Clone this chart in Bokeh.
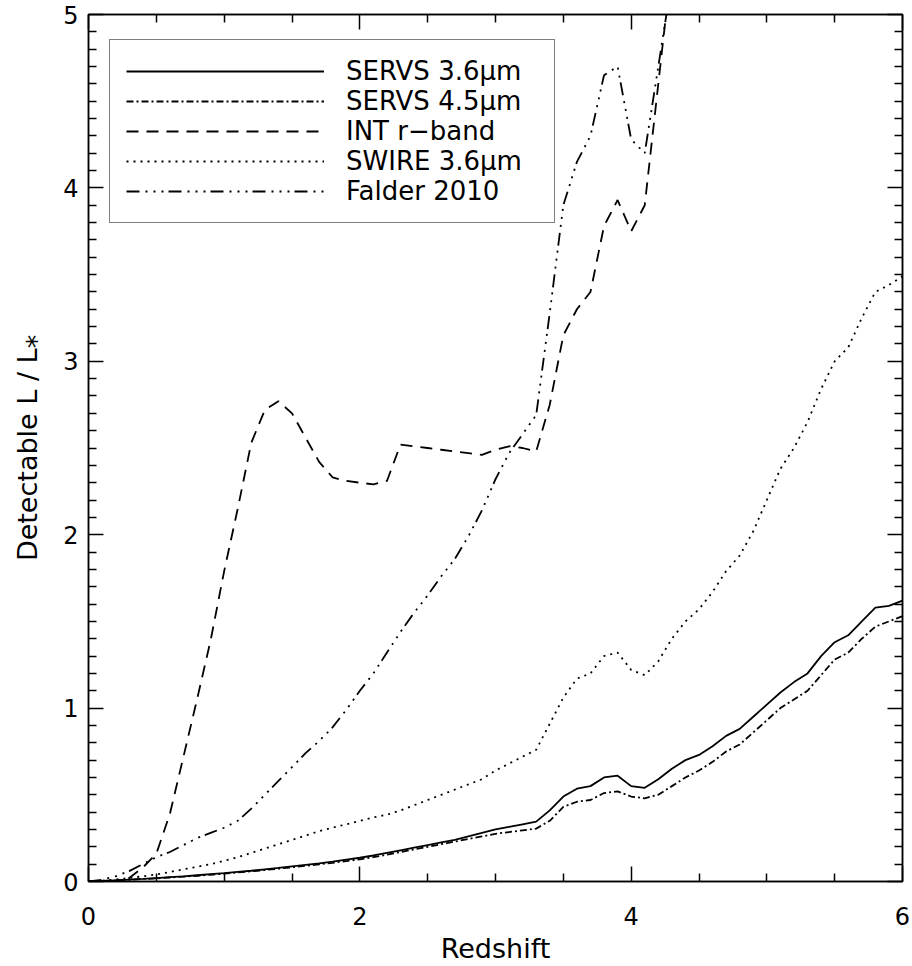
from bokeh.plotting import figure
from bokeh.models import FixedTicker, LinearAxis, Legend, LegendItem, Range1d
from bokeh.embed import file_html
from bokeh.resources import INLINE

# ---------------- data ----------------
z = [0.0, 0.1, 0.2, 0.3, 0.4, 0.5, 0.6, 0.7, 0.8, 0.9,
     1.0, 1.1, 1.2, 1.3, 1.4, 1.5, 1.6, 1.7, 1.8, 1.9,
     2.0, 2.1, 2.2, 2.3, 2.4, 2.5, 2.6, 2.7, 2.8, 2.9,
     3.0, 3.1, 3.2, 3.3, 3.4, 3.5, 3.6, 3.7, 3.8, 3.9,
     4.0, 4.1, 4.2, 4.3, 4.4, 4.5, 4.6, 4.7, 4.8, 4.9,
     5.0, 5.1, 5.2, 5.3, 5.4, 5.5, 5.6, 5.7, 5.8, 5.9, 6.0]

servs36 = [0.000, 0.003, 0.007, 0.011, 0.015, 0.020, 0.025, 0.030, 0.036, 0.042,
           0.048, 0.055, 0.062, 0.070, 0.078, 0.087, 0.096, 0.105, 0.115, 0.126,
           0.137, 0.150, 0.165, 0.180, 0.195, 0.210, 0.225, 0.240, 0.260, 0.280,
           0.300, 0.315, 0.330, 0.345, 0.410, 0.490, 0.535, 0.550, 0.600, 0.610,
           0.550, 0.540, 0.590, 0.650, 0.700, 0.730, 0.780, 0.840, 0.880, 0.950,
           1.020, 1.090, 1.150, 1.200, 1.300, 1.380, 1.420, 1.500, 1.580, 1.590, 1.620]

servs45 = [0.000, 0.003, 0.006, 0.010, 0.014, 0.018, 0.023, 0.028, 0.033, 0.039,
           0.045, 0.052, 0.059, 0.066, 0.074, 0.082, 0.090, 0.099, 0.108, 0.118,
           0.128, 0.140, 0.155, 0.170, 0.185, 0.200, 0.215, 0.230, 0.245, 0.260,
           0.275, 0.285, 0.295, 0.305, 0.350, 0.430, 0.460, 0.470, 0.510, 0.520,
           0.490, 0.480, 0.500, 0.550, 0.600, 0.640, 0.690, 0.750, 0.790, 0.860,
           0.930, 1.000, 1.050, 1.100, 1.190, 1.280, 1.320, 1.400, 1.470, 1.500, 1.530]

swire36 = [0.000, 0.005, 0.012, 0.020, 0.030, 0.040, 0.055, 0.070, 0.085, 0.100,
           0.120, 0.140, 0.165, 0.190, 0.215, 0.240, 0.265, 0.290, 0.310, 0.330,
           0.350, 0.370, 0.385, 0.410, 0.440, 0.470, 0.500, 0.530, 0.560, 0.590,
           0.640, 0.680, 0.720, 0.760, 0.910, 1.060, 1.170, 1.200, 1.300, 1.320,
           1.220, 1.190, 1.270, 1.400, 1.500, 1.570, 1.670, 1.790, 1.880, 2.020,
           2.200, 2.380, 2.500, 2.650, 2.840, 3.000, 3.080, 3.250, 3.400, 3.440, 3.490]

z_short = [0.0, 0.1, 0.2, 0.3, 0.4, 0.5, 0.6, 0.7, 0.8, 0.9,
           1.0, 1.1, 1.2, 1.3, 1.4, 1.5, 1.6, 1.7, 1.8, 1.9,
           2.0, 2.1, 2.2, 2.3, 2.4, 2.5, 2.6, 2.7, 2.8, 2.9,
           3.0, 3.1, 3.2, 3.3, 3.4, 3.5, 3.6, 3.7, 3.8, 3.9,
           4.0, 4.1, 4.2, 4.3, 4.4]

int_r = [0.000, 0.000, 0.005, 0.020, 0.080, 0.160, 0.390, 0.720, 1.050, 1.390,
         1.790, 2.150, 2.530, 2.720, 2.770, 2.700, 2.560, 2.420, 2.330, 2.310,
         2.300, 2.290, 2.310, 2.520, 2.510, 2.500, 2.490, 2.480, 2.470, 2.460,
         2.490, 2.510, 2.500, 2.480, 2.750, 3.150, 3.300, 3.400, 3.780, 3.930,
         3.750, 3.900, 4.600, 5.300, 6.000]

falder = [0.000, 0.010, 0.030, 0.060, 0.100, 0.140, 0.170, 0.210, 0.250, 0.280,
          0.310, 0.350, 0.420, 0.500, 0.580, 0.660, 0.740, 0.810, 0.890, 0.990,
          1.100, 1.200, 1.320, 1.440, 1.550, 1.650, 1.760, 1.860, 1.990, 2.140,
          2.320, 2.470, 2.580, 2.690, 3.280, 3.900, 4.150, 4.300, 4.650, 4.700,
          4.280, 4.200, 4.700, 5.200, 5.800]

labels = ["SERVS 3.6\u03bcm", "SERVS 4.5\u03bcm", "INT r\u2212band",
          "SWIRE 3.6\u03bcm", "Falder 2010"]

x_major = [0, 2, 4, 6]
x_minor = [0.5, 1.0, 1.5, 2.5, 3.0, 3.5, 4.5, 5.0, 5.5]
y_major = [0, 1, 2, 3, 4, 5]
y_minor = [0.1, 0.2, 0.3, 0.4, 0.5, 0.6, 0.7, 0.8, 0.9,
           1.1, 1.2, 1.3, 1.4, 1.5, 1.6, 1.7, 1.8, 1.9,
           2.1, 2.2, 2.3, 2.4, 2.5, 2.6, 2.7, 2.8, 2.9,
           3.1, 3.2, 3.3, 3.4, 3.5, 3.6, 3.7, 3.8, 3.9,
           4.1, 4.2, 4.3, 4.4, 4.5, 4.6, 4.7, 4.8, 4.9]

FONT = "DejaVu Sans"

p = figure(width=912, height=966,
           x_range=Range1d(0, 6), y_range=Range1d(0, 5),
           output_backend="svg", toolbar_location=None,
           min_border_left=88, min_border_right=10,
           min_border_top=14, min_border_bottom=83)
p.xgrid.visible = False
p.ygrid.visible = False
p.outline_line_color = "black"
p.outline_line_width = 1.5
p.background_fill_color = "white"
p.border_fill_color = "white"

p.add_layout(LinearAxis(), "right")
p.add_layout(LinearAxis(), "above")

for ax in p.xaxis:
    ax.ticker = FixedTicker(ticks=x_major, minor_ticks=x_minor)
for ax in p.yaxis:
    ax.ticker = FixedTicker(ticks=y_major, minor_ticks=y_minor)

for ax in p.xaxis + p.yaxis:
    ax.axis_line_color = "black"
    ax.axis_line_width = 1.5
    ax.major_tick_in = 15
    ax.major_tick_out = 0
    ax.minor_tick_in = 8
    ax.minor_tick_out = 0
    ax.major_tick_line_width = 1.5
    ax.minor_tick_line_width = 1.5
    ax.major_tick_line_color = "black"
    ax.minor_tick_line_color = "black"
    ax.major_label_text_font = FONT
    ax.major_label_text_font_size = "24px"
    ax.major_label_text_color = "black"
    ax.axis_label_text_font = FONT
    ax.axis_label_text_font_size = "27px"
    ax.axis_label_text_font_style = "normal"
    ax.axis_label_text_color = "black"

# mirror axes: ticks only, empty labels
p.right[0].major_label_overrides = {t: "" for t in y_major}
p.above[0].major_label_overrides = {t: "" for t in x_major}
for ax in [p.right[0], p.above[0]]:
    ax.major_label_standoff = 0

p.below[0].axis_label = "Redshift"
p.below[0].major_label_standoff = 25
p.below[0].axis_label_standoff = 5
p.left[0].axis_label = "Detectable L / L\u204e"
p.left[0].major_label_standoff = 10
p.left[0].axis_label_standoff = 17

lw = 1.8
r1 = p.line(z, servs36, line_color="black", line_width=lw)
r2 = p.line(z, servs45, line_color="black", line_width=lw, line_dash="7 3 2 3")
r3 = p.line(z_short, int_r, line_color="black", line_width=lw, line_dash="12 8")
r4 = p.line(z, swire36, line_color="black", line_width=lw, line_dash="2 5")
r5 = p.line(z_short, falder, line_color="black", line_width=lw,
            line_dash="13 6 2 6 2 6 2 5")

legend = Legend(items=[LegendItem(label=lab, renderers=[r])
                       for lab, r in zip(labels, [r1, r2, r3, r4, r5])],
                location=(21, 658))
legend.border_line_color = "black"
legend.border_line_width = 1.5
legend.background_fill_color = "white"
legend.background_fill_alpha = 1.0
legend.glyph_width = 198
legend.glyph_height = 30
legend.label_height = 30
legend.label_width = 192
legend.spacing = 0
legend.padding = 16
legend.margin = 0
legend.label_standoff = 22
legend.label_text_font = FONT
legend.label_text_font_size = "26px"
legend.label_text_color = "black"
p.add_layout(legend)

open("out.html", "w").write(file_html(p, INLINE))
